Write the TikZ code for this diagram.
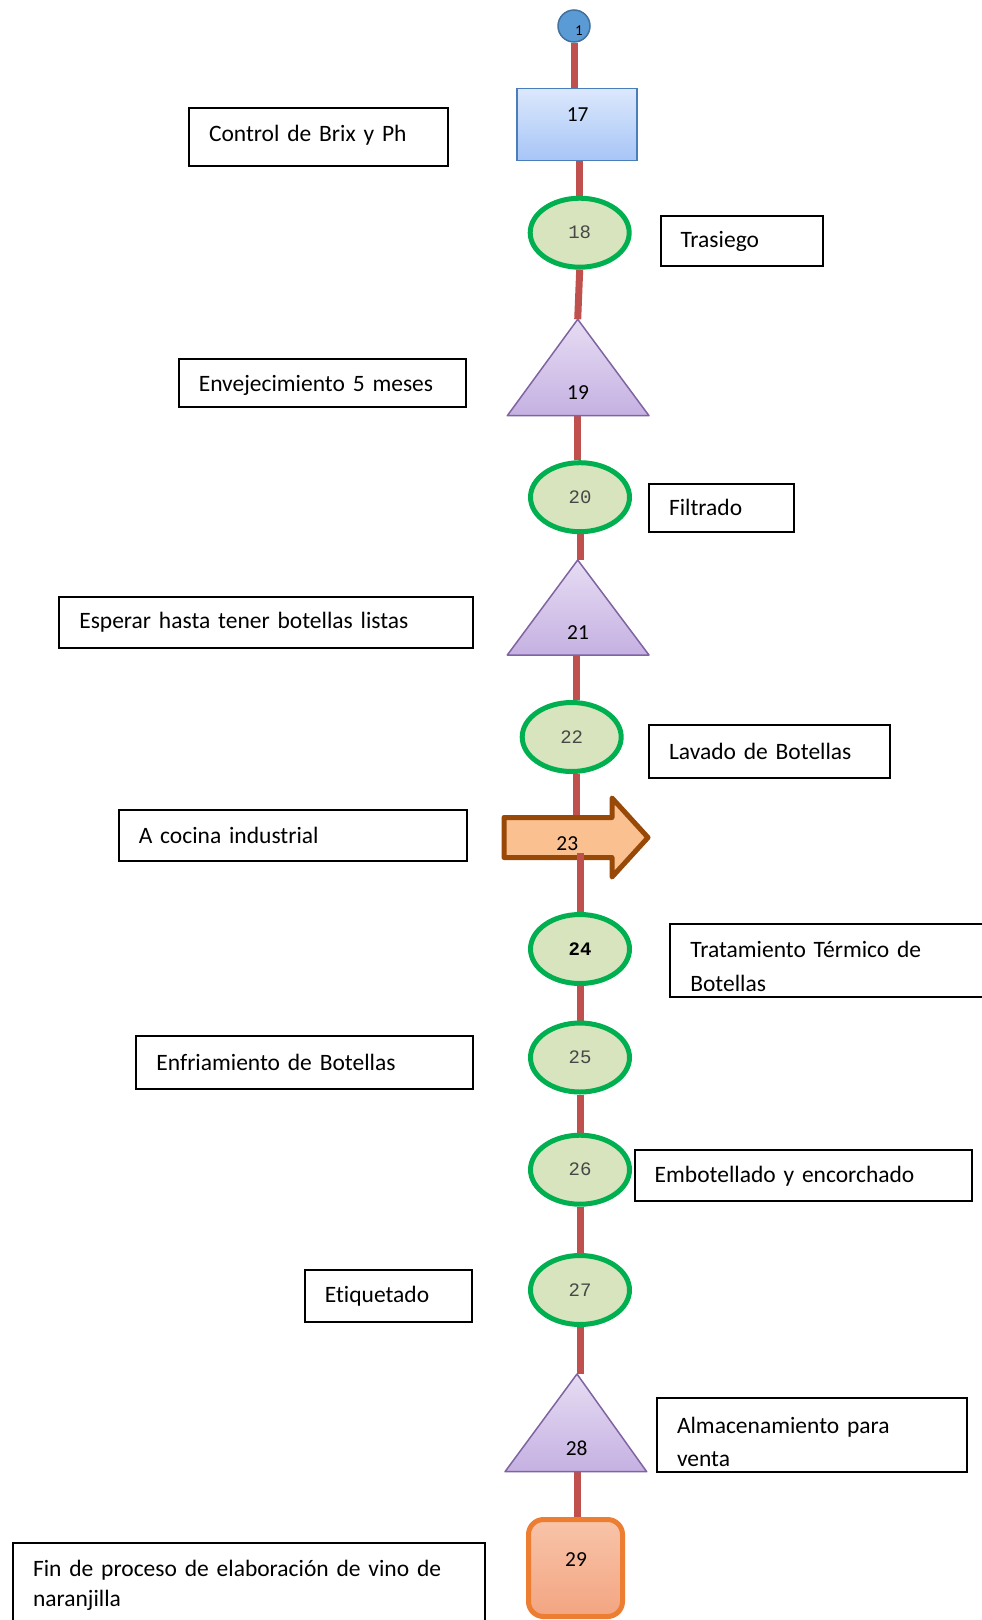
\documentclass[tikz,border=0pt]{standalone}
\usepackage{fontspec}
\setmainfont{Carlito}[Ligatures=NoCommon]
\newfontfamily\monofnt{Liberation Mono}
\usepackage{xcolor}
\usetikzlibrary{shapes.geometric,backgrounds}

\definecolor{flowred}{HTML}{C0504D}
\definecolor{opgreen}{HTML}{00B050}
\definecolor{opfill}{HTML}{D7E4BD}
\definecolor{waitline}{HTML}{8064A2}
\definecolor{waittop}{HTML}{E6DCF3}
\definecolor{waitbot}{HTML}{C5B1E2}
\definecolor{boxline}{HTML}{4A7EBB}
\definecolor{boxtop}{HTML}{DCE8FC}
\definecolor{boxbot}{HTML}{A7C5F7}
\definecolor{startfill}{HTML}{5B9BD5}
\definecolor{startline}{HTML}{41719C}
\definecolor{moveline}{HTML}{984807}
\definecolor{movefill}{HTML}{FAC090}
\definecolor{endline}{HTML}{ED7D31}
\definecolor{endtop}{HTML}{F8C4A9}
\definecolor{endbot}{HTML}{F3A581}
\newcommand{\txtfontat}[1]{\fontsize{23.5}{#1}\selectfont\spaceskip=4pt plus 2pt minus 1pt\relax}
\newcommand{\txtfont}{\txtfontat{34}}
\newcommand{\numfont}{\fontsize{21.4}{24}\selectfont}
\newcommand{\codefont}{\monofnt\fontsize{19}{22}\selectfont\color{black!72}}

\tikzset{
  flow/.style={draw=flowred,line width=7pt},
  lbl/.style={draw,line width=2pt,anchor=north west,align=left,
    inner xsep=20pt,inner ysep=0pt,font=\txtfont},
  oper/.style={ellipse,draw=opgreen,fill=opfill,line width=5pt,
    minimum width=99pt,minimum height=69pt,inner sep=0pt,font=\codefont},
  waitpath/.style={draw=waitline,line width=1.5pt,line join=round,
    top color=waittop,bottom color=waitbot},
  num/.style={font=\numfont,inner sep=0pt}
}

\begin{document}
\begin{tikzpicture}[x=1pt,y=-1pt]
  \useasboundingbox (0,0) rectangle (982,1620);
  \clip (0,0) rectangle (982,1620);

  % start and control
  \node[circle,draw=startline,fill=startfill,line width=1.5pt,
    minimum size=32pt,inner sep=0pt] (c1) at (574,26) {};
  \node[font=\fontsize{15}{16}\selectfont,inner sep=0pt] (n1) at (579,31) {1};
  \node[rectangle,draw=boxline,line width=1.5pt,top color=boxtop,
    bottom color=boxbot,minimum width=120pt,minimum height=72pt] (p17) at (577.2,124.3) {};
  \node[num] (n17) at (577.7,114.3) {17};

  % operations
  \node[oper] (e18) at (579.7,232.7) {18};
  \node[oper] (e20) at (580,497.2) {20};
  \node[oper] (e22) at (571.7,737) {22};
  \node[oper,font=\monofnt\fontsize{19}{22}\selectfont\bfseries] (e24) at (580,949) {24};
  \node[oper] (e25) at (580,1057.5) {25};
  \node[oper] (e26) at (580,1169.7) {26};
  \node[oper] (e27) at (580,1290) {27};

  % waits
  \path[waitpath] (577.7,319.3) -- (649,415.7) -- (507.3,415.7) -- cycle;
  \coordinate (w19top) at (577.7,319.3);
  \coordinate (w19bot) at (577,415.7);
  \node[num] (n19) at (578,392.7) {19};
  \path[waitpath] (577.7,560) -- (649,655) -- (507.3,655) -- cycle;
  \coordinate (w21top) at (577.7,560);
  \coordinate (w21bot) at (576,655);
  \node[num] (n21) at (578,632.3) {21};
  \path[waitpath] (577,1374) -- (646.7,1471.7) -- (505,1471.7) -- cycle;
  \coordinate (w28top) at (577,1374);
  \coordinate (w28bot) at (577,1471.7);
  \node[num] (n28) at (576.7,1448.3) {28};

  % transport
  \draw[draw=moveline,fill=movefill,line width=5pt,line join=round]
    (504,817.5) -- (612,817.5) -- (612,798) -- (648,837.5)
    -- (612,877) -- (612,857.5) -- (504,857.5) -- cycle;
  \coordinate (a23in) at (576.7,817.5);
  \coordinate (a23out) at (580,853);
  \node[num] (n23) at (567.3,843.3) {23};

  % end
  \node[rectangle,rounded corners=15pt,draw=endline,line width=5pt,
    top color=endtop,bottom color=endbot,minimum width=94pt,
    minimum height=97pt] (p29) at (575.5,1568) {};
  \node[num] (n29) at (576,1560) {29};

  \begin{scope}[on background layer]
    \draw[flow] (c1.south) -- (c1.south |- p17.north);
    \draw[flow] (e18.north |- p17.south) -- (e18.north);
    \draw[flow] (e18.south) -- (w19top);
    \draw[flow] (w19bot) -- (w19bot |- e20.north);
    \draw[flow] (e20.south) -- (e20.south |- w21top);
    \draw[flow] (w21bot) -- (w21bot |- e22.north);
    \draw[flow] (a23in |- e22.south) -- (a23in);
    \draw[flow] (e24.south) -- (e25.north);
    \draw[flow] (e25.south) -- (e26.north);
    \draw[flow] (e26.south) -- (e27.north);
    \draw[flow] (e27.south) -- (e27.south |- w28top);
    \draw[flow] (w28bot) -- (w28bot |- p29.north);
  \end{scope}
  \draw[flow] (a23out) -- (a23out |- e24.north);

  % step descriptions
  \node[lbl,minimum width=259pt,minimum height=58pt,text width=219pt] (l17) at (188,107) {\rule[-8pt]{0pt}{0pt}Control de Brix y Ph};
  \node[lbl,minimum width=162pt,minimum height=50pt,text width=122pt] (l18) at (659.5,215) {Trasiego};
  \node[lbl,minimum width=287pt,minimum height=48pt,text width=247pt] (l19) at (177.8,357.6) {\rule{0pt}{22pt}Envejecimiento 5 meses};
  \node[lbl,minimum width=145pt,minimum height=48pt,text width=105pt] (l20) at (648,482.7) {Filtrado};
  \node[lbl,minimum width=414pt,minimum height=51pt,text width=374pt] (l21) at (58.3,596) {Esperar hasta tener botellas listas};
  \node[lbl,minimum width=241pt,minimum height=53pt,text width=201pt] (l22) at (648,723.6) {Lavado de Botellas};
  \node[lbl,minimum width=348pt,minimum height=51pt,text width=308pt] (l23) at (117.8,809.4) {A cocina industrial};
  \node[lbl,minimum width=340pt,minimum height=73pt,text width=300pt] (l24) at (669.3,923.3) {\rule{0pt}{28pt}Tratamiento Térmico de\\Botellas};
  \node[lbl,minimum width=337pt,minimum height=53pt,text width=297pt] (l25) at (135.4,1034.7) {Enfriamiento de Botellas};
  \node[lbl,minimum width=337pt,minimum height=51pt,text width=297pt] (l26) at (633.7,1149.3) {Embotellado y encorchado};
  \node[lbl,minimum width=167pt,minimum height=52pt,text width=127pt] (l27) at (303.9,1269.4) {Etiquetado};
  \node[lbl,minimum width=310pt,minimum height=74pt,text width=270pt,
    font=\txtfontat{33}] (l28) at (656,1397) {\rule{0pt}{30pt}Almacenamiento para\\venta};
  \node[lbl,minimum width=472pt,minimum height=86pt,text width=432pt,
    font=\txtfontat{30}] (l29) at (12,1541.7) {Fin de proceso de elaboración de vino de\\naranjilla};
\end{tikzpicture}
\end{document}
